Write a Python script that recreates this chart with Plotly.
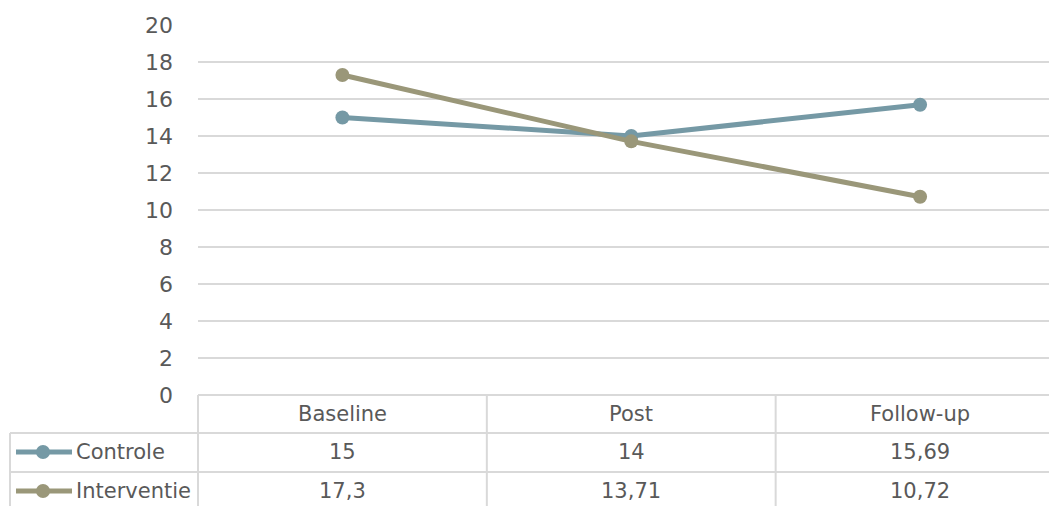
import plotly.graph_objects as go

# Data
categories = ["Baseline", "Post", "Follow-up"]
series_names = ["Controle", "Interventie"]
controle = [15, 14, 15.69]
interventie = [17.3, 13.71, 10.72]
controle_labels = ["15", "14", "15,69"]
interventie_labels = ["17,3", "13,71", "10,72"]
y_ticks = [0, 2, 4, 6, 8, 10, 12, 14, 16, 18, 20]

# Styling
W, H = 1049, 506
ML, MT, MB, MR = 198, 25, 111, 0
PW, PH = W - ML - MR, H - MT - MB
COLORS = ["#7599A5", "#9A9779"]
TEXT = "#595959"
GRID = "#D9D9D9"
FONT = "DejaVu Sans"
FS = 21
TICK_FS = 22


def px_x(x):
    return (x - ML) / PW


def px_y(y):
    return (H - MB - y) / PH


fig = go.Figure()
xs = list(range(len(categories)))
for name, vals, col in zip(series_names, [controle, interventie], COLORS):
    fig.add_trace(go.Scatter(
        x=xs, y=vals, name=name, mode="lines+markers",
        line=dict(color=col, width=5),
        marker=dict(color=col, size=14),
        showlegend=False, hoverinfo="skip",
    ))

shapes = []
line_style = dict(color=GRID, width=2)
# top rule of the data table (the y = 0 line)
shapes.append(dict(type="line", xref="paper", yref="paper",
                   x0=0, x1=1.05, y0=0, y1=0, line=line_style, layer="below"))
# horizontal table rules
for yy, x_start in [(433, 10), (472, 10)]:
    shapes.append(dict(type="line", xref="paper", yref="paper",
                       x0=px_x(x_start), x1=1.05, y0=px_y(yy), y1=px_y(yy),
                       line=line_style, layer="below"))
# vertical table rules
shapes.append(dict(type="line", xref="paper", yref="paper",
                   x0=px_x(10), x1=px_x(10), y0=px_y(433), y1=px_y(520),
                   line=line_style))
shapes.append(dict(type="line", xref="paper", yref="paper",
                   x0=0, x1=0, y0=0, y1=px_y(520), line=line_style))
for b in [0.5, 1.5]:
    shapes.append(dict(type="line", xref="x", yref="paper",
                       x0=b, x1=b, y0=0, y1=px_y(520), line=line_style))

annotations = []
for i, c in enumerate(categories):
    annotations.append(dict(x=i, y=px_y(414), xref="x", yref="paper", text=c,
                            showarrow=False, font=dict(family=FONT, size=FS, color=TEXT),
                            xanchor="center", yanchor="middle"))
for row_y, labels, name, col in [(452, controle_labels, series_names[0], COLORS[0]),
                                 (491, interventie_labels, series_names[1], COLORS[1])]:
    for i, lab in enumerate(labels):
        annotations.append(dict(x=i, y=px_y(row_y), xref="x", yref="paper", text=lab,
                                showarrow=False, font=dict(family=FONT, size=FS, color=TEXT),
                                xanchor="center", yanchor="middle"))
    # legend key
    shapes.append(dict(type="line", xref="paper", yref="paper",
                       x0=px_x(16), x1=px_x(72), y0=px_y(row_y), y1=px_y(row_y),
                       line=dict(color=col, width=5)))
    shapes.append(dict(type="circle", xref="paper", yref="paper",
                       xsizemode="pixel", ysizemode="pixel",
                       xanchor=px_x(43), yanchor=px_y(row_y),
                       x0=-7, x1=7, y0=-7, y1=7,
                       fillcolor=col, line=dict(color=col, width=0)))
    annotations.append(dict(x=px_x(74), y=px_y(row_y), xref="paper", yref="paper", text=name,
                            showarrow=False, font=dict(family=FONT, size=FS, color=TEXT),
                            xanchor="left", yanchor="middle"))

fig.update_layout(
    width=W, height=H,
    margin=dict(l=ML, r=MR, t=MT, b=MB, pad=0),
    paper_bgcolor="white", plot_bgcolor="white",
    shapes=shapes, annotations=annotations,
    xaxis=dict(range=[-0.5, (W - 342) / 289], showgrid=False, zeroline=False,
               showticklabels=False, showline=False, fixedrange=True),
    yaxis=dict(range=[0, 20], tickvals=y_ticks, showgrid=True, gridcolor=GRID,
               gridwidth=2, zeroline=False, showline=False,
               tickfont=dict(family=FONT, size=TICK_FS, color=TEXT),
               ticklabelstandoff=24, fixedrange=True),
)

fig.write_html("out.html")
